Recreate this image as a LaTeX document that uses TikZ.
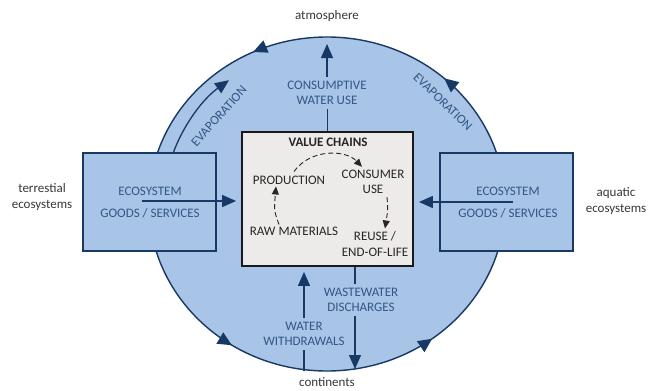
\documentclass[tikz,border=0pt]{standalone}
\usepackage{fontspec}
\setmainfont{Carlito}
\usetikzlibrary{arrows.meta,decorations.markings}

\definecolor{seablue}{RGB}{168,197,232}
\definecolor{navy}{RGB}{24,56,101}
\definecolor{labelblue}{RGB}{52,86,132}
\definecolor{chaingray}{RGB}{237,235,234}
\definecolor{outtext}{RGB}{55,55,55}

\newcommand{\labelsize}{\fontsize{13}{15.5}\selectfont}

\tikzset{
  flow/.style={navy, line width=1.3pt},
  flowarrow/.style={flow, -{Triangle[length=14pt,width=12pt]}},
  ecobox/.style={draw=navy, line width=1.4pt, fill=seablue,
    minimum width=133pt, minimum height=98pt},
  bluetext/.style={text=labelblue, font=\labelsize, align=center, inner sep=4pt},
  outlabel/.style={text=outtext, font=\labelsize, align=center, inner sep=1pt},
  chaintext/.style={text=black!85, font=\labelsize, align=center, inner sep=1pt},
  dashflow/.style={black!85, line width=0.9pt, dash pattern=on 5pt off 3pt,
    -{Triangle[length=8pt,width=7pt]}},
}

\begin{document}
\begin{tikzpicture}[x=1pt,y=-1pt]
    \useasboundingbox (0,0) rectangle (657,391);

    % water cycle
    \draw[navy, line width=1.4pt, fill=seablue,
        postaction={decorate, decoration={markings,
            mark=at position 0.147 with {\arrowreversed{Triangle[length=14pt,width=13pt]}},
            mark=at position 0.342 with {\arrowreversed{Triangle[length=14pt,width=13pt]}},
            mark=at position 0.680 with {\arrowreversed{Triangle[length=14pt,width=13pt]}},
            mark=at position 0.867 with {\arrowreversed{Triangle[length=14pt,width=13pt]}}}}]
        (327,204) ellipse[x radius=178, y radius=167];

    \node[outlabel] (atmo) at (327,16) {atmosphere};
    \node[outlabel] (land) at (327,382) {continents};
    \node[outlabel] (terr) at (42,197) {terrestial\\ecosystems};
    \node[outlabel] (aqua) at (616,201) {aquatic\\ecosystems};

    % boxes
    \node[ecobox] (lbox) at (149.5,202) {};
    \node[ecobox] (rbox) at (506.5,202) {};
    \node[draw=black!90, line width=1.8pt, fill=chaingray,
        minimum width=171pt, minimum height=134pt] (cbox) at (327.5,199) {};

    \node[bluetext, inner sep=1pt] (lname) at (150,191) {ECOSYSTEM};
    \node[bluetext, inner sep=1pt] (lgoods) at (150,213) {GOODS / SERVICES};
    \node[bluetext, inner sep=1pt] (rname) at (508,191) {ECOSYSTEM};
    \node[bluetext, inner sep=1pt] (rgoods) at (508,213) {GOODS / SERVICES};

    \coordinate (lstart) at (142,201);
    \coordinate (rstart) at (513,202);
    \draw[flowarrow, shorten >=5pt] (lstart) -- (lstart -| cbox.west);
    \draw[flowarrow, shorten >=5pt] (rstart) -- (rstart -| cbox.east);

    % evaporation
    \coordinate (evapL) at (173,153.5);
    \draw[flowarrow] (evapL) arc[start angle=-161, end angle=-127, x radius=163, y radius=155];
    \node[bluetext, rotate=48] (evleft) at (219,116) {EVAPORATION};
    \node[bluetext, rotate=-44] (evright) at (443,102) {EVAPORATION};

    % consumptive use
    \node[bluetext] (cons) at (327,93) {CONSUMPTIVE\\WATER USE};
    \coordinate (sky) at (327,44);
    \draw[flow] (cbox.north) -- (cbox.north |- cons.south);
    \draw[flowarrow] (cons.north) -- (sky);

    % withdrawals and discharges
    \node[bluetext] (withdraw) at (304,334) {WATER\\WITHDRAWALS};
    \coordinate (ground) at (304,371);
    \draw[flow] (withdraw.south) -- (ground);
    \draw[flowarrow, shorten >=5pt] (withdraw.north) -- (withdraw.north |- cbox.south);

    \node[bluetext] (waste) at (361,300) {WASTEWATER\\DISCHARGES};
    \coordinate (outlet) at (355,369);
    \draw[flow] (cbox.south -| outlet) -- (waste.north -| outlet);
    \draw[flowarrow] (waste.south -| outlet) -- (outlet);

    % value chain
    \node[chaintext, font=\labelsize\bfseries] (vc) at (328,142) {VALUE CHAINS};
    \node[chaintext] (prod) at (289,180) {PRODUCTION};
    \node[chaintext] (use) at (373,182) {CONSUMER\\USE};
    \node[chaintext] (raw) at (294,231) {RAW MATERIALS};
    \node[chaintext] (reuse) at (375,244) {REUSE /\\END-OF-LIFE};

    \draw[dashflow] ([xshift=5pt,yshift=3pt]prod.north) .. controls (310,149) and (345,149) .. ([xshift=-11pt,yshift=2pt]use.north);
    \draw[dashflow] ([xshift=-15pt,yshift=1pt]raw.north) .. controls +(-5,-14) .. ([xshift=-13pt,yshift=-1pt]prod.south);
    \draw[dashflow] ([xshift=14pt,yshift=-2pt]use.south) .. controls +(1,12) .. ([xshift=10pt,yshift=2pt]reuse.north);
\end{tikzpicture}
\end{document}
